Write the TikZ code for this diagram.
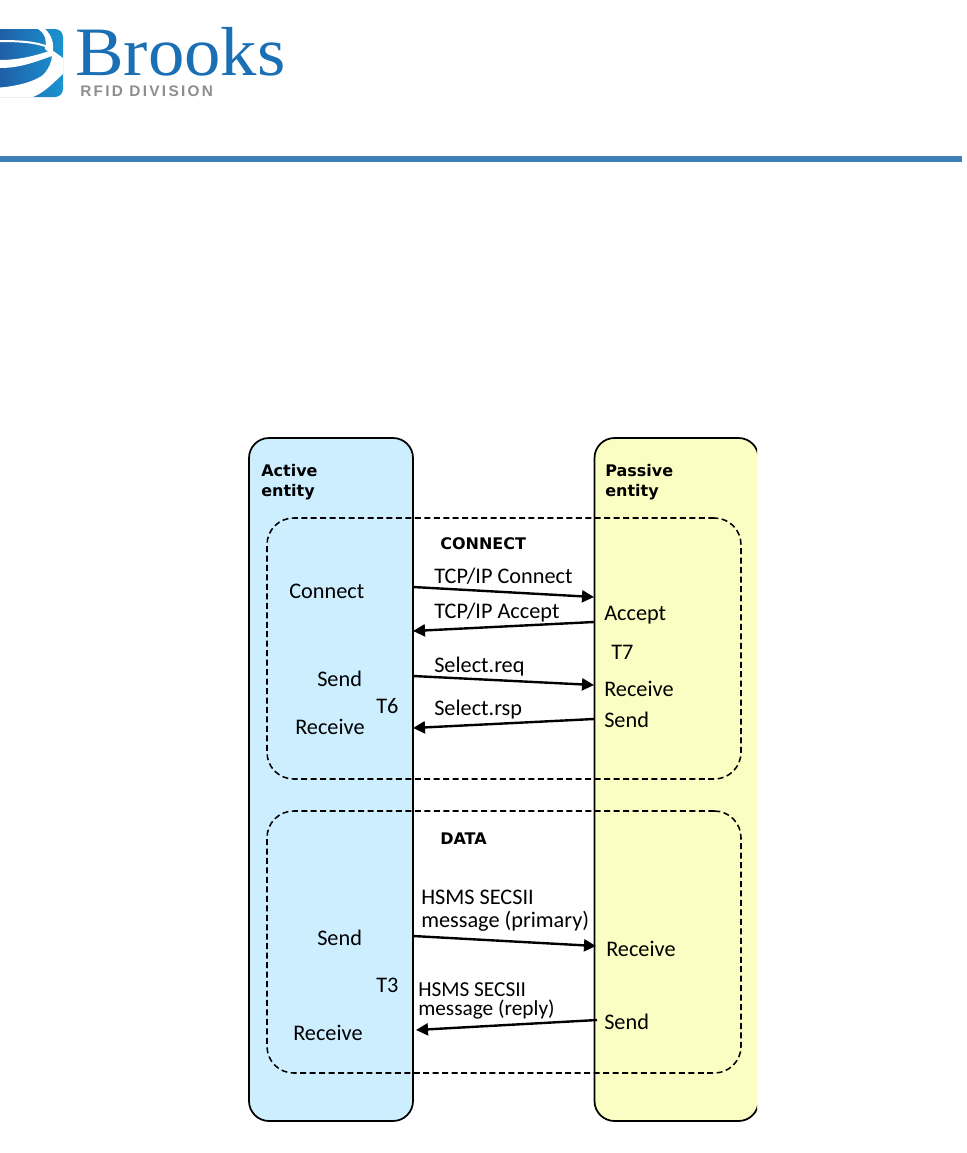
\documentclass[tikz,border=0pt]{standalone}
\usepackage{fontspec}
\usepackage{xcolor}
\usetikzlibrary{arrows.meta}
\setmainfont{Carlito}
\newfontfamily\hdrfont{DejaVu Sans}
\newfontfamily\logofont[FakeStretch=1.05]{Liberation Serif}
\newfontfamily\divfont[LetterSpace=15]{Liberation Sans}
\definecolor{activeblue}{HTML}{CCEEFF}
\definecolor{passiveyellow}{HTML}{FBFEC2}
\definecolor{barblue}{HTML}{3F7FB8}
\definecolor{logoblue}{HTML}{1B6FB4}
\definecolor{logodark}{HTML}{1F5FA8}
\definecolor{logolight}{HTML}{1A94D0}
\definecolor{logogrey}{HTML}{8E8E92}

\begin{document}
\begin{tikzpicture}[x=0.75pt,y=-0.75pt]
        \tikzset{lane/.style={draw,line width=1.3pt,rounded corners=15pt,inner sep=0pt,outer sep=0pt,
                minimum width=123pt,minimum height=512.25pt},
            phase/.style={draw,line width=1.15pt,dash pattern=on 4.5pt off 2.6pt,rounded corners=20pt,inner sep=0pt,
                minimum width=355.5pt},
            msg/.style={draw,line width=1.8pt,-{Triangle[length=9pt,width=9pt]}},
            lbl/.style={anchor=west,inner sep=0pt,font=\fontsize{16.7}{17}\selectfont},
            twolines/.style={lbl,align=left},
            hdr/.style={anchor=west,inner sep=0pt,align=left,font=\hdrfont\bfseries\fontsize{12}{15}\selectfont}}
        \useasboundingbox (0,0) rectangle (967,1153);

        % logo
        \begin{scope}
            \clip (0,29) -- (55,29) arc[start angle=90,end angle=0,radius=6pt] -- (63,89)
                arc[start angle=0,end angle=-90,radius=6pt] -- (0,97) -- cycle;
            \shade[left color=logodark,right color=logolight] (0,29) rectangle (63,97);
            \fill[white] (0,87.5) .. controls (20,86) and (38,80) .. (44,74) .. controls (49,68) and (52,62) .. (52,55)
                -- (63,60) -- (63,74) .. controls (52,84) and (45,92) .. (33,97) -- (0,97) -- cycle;
            \fill[white] (38,29) .. controls (46,34) and (47,42) .. (45,49) -- (52,55)
                .. controls (55,45) and (52,35) .. (45,29) -- cycle;
            \fill[white] (0,60) .. controls (20,60) and (38,55) .. (52,50) -- (63,58) -- (63,62)
                -- (52,56) .. controls (35,62) and (20,68) .. (0,68) -- cycle;
            \draw[white,line width=1.5pt] (0,41) .. controls (20,41) and (36,42) .. (48,47);
        \end{scope}
        \node[anchor=base west,inner sep=0pt,text=logoblue,font=\logofont\fontsize{52}{52}\selectfont] (brooks) at (75,75) {Brooks};
        \node[anchor=base west,inner sep=0pt,text=logogrey,font=\divfont\bfseries\fontsize{11.5}{12}\selectfont] (division) at (80,96) {RFID DIVISION};
        \fill[barblue] (0,156) rectangle (962,162);

        % entities
        \node[lane,fill=activeblue] (active) at (331,779.5) {};
        \begin{scope}
            \clip (590,430) rectangle (757,1130);
            \node[lane,fill=passiveyellow] (passive) at (676.5,779.5) {};
        \end{scope}
        \node[phase,minimum height=195.75pt] (connect) at (504,648.5) {};
        \node[phase,minimum height=196.5pt] (data) at (504,942) {};

        \node[hdr] (activetitle) at (261,482) {Active\\entity};
        \node[hdr] (passivetitle) at (605,482) {Passive\\entity};
        \node[hdr] (connecttitle) at (440,544) {CONNECT};
        \node[hdr] (datatitle) at (440,839) {DATA};

        % connect phase
        \node[lbl] (connectA) at (289,591) {Connect};
        \node[lbl] (sendA) at (317,679) {Send};
        \node[lbl] (receiveA) at (295,727) {Receive};
        \node[lbl] (tsix) at (376,706) {T6};
        \node[lbl] (acceptP) at (604,615) {Accept};
        \node[lbl] (tseven) at (611,652) {T7};
        \node[lbl] (receiveP) at (604,689) {Receive};
        \node[lbl] (sendP) at (604,720) {Send};
        \node[lbl] (tcpconnect) at (434,576) {TCP/IP Connect};
        \node[lbl] (tcpaccept) at (434,613) {TCP/IP Accept};
        \node[lbl] (selectreq) at (434,667) {Select.req};
        \node[lbl] (selectrsp) at (434,710) {Select.rsp};

        \coordinate (m1a) at (413,587);
        \coordinate (m1b) at (594,597);
        \coordinate (m2a) at (594,622);
        \coordinate (m2b) at (413,631);
        \coordinate (m3a) at (413,676);
        \coordinate (m3b) at (594,685);
        \coordinate (m4a) at (594,719);
        \coordinate (m4b) at (413,728);
        \draw[msg] (m1a) -- (m1b);
        \draw[msg] (m2a) -- (m2b);
        \draw[msg] (m3a) -- (m3b);
        \draw[msg] (m4a) -- (m4b);

        % data phase
        \node[lbl] (sendB) at (317,938) {Send};
        \node[lbl] (receiveB) at (293,1033) {Receive};
        \node[lbl] (tthree) at (376,985) {T3};
        \node[lbl] (receiveQ) at (606,949) {Receive};
        \node[lbl] (sendQ) at (604,1022) {Send};
        \node[twolines,font=\fontsize{16.7}{17}\selectfont] (primary) at (421,911) {HSMS SECSII\\message (primary)};
        \node[twolines,font=\fontsize{16}{14.3}\selectfont] (reply) at (418,1001) {HSMS SECSII\\message (reply)};

        \coordinate (m5a) at (413,936);
        \coordinate (m5b) at (596,946);
        \coordinate (m6a) at (597,1020);
        \coordinate (m6b) at (416,1030);
        \draw[msg] (m5a) -- (m5b);
        \draw[msg] (m6a) -- (m6b);
    \end{tikzpicture}
\end{document}
